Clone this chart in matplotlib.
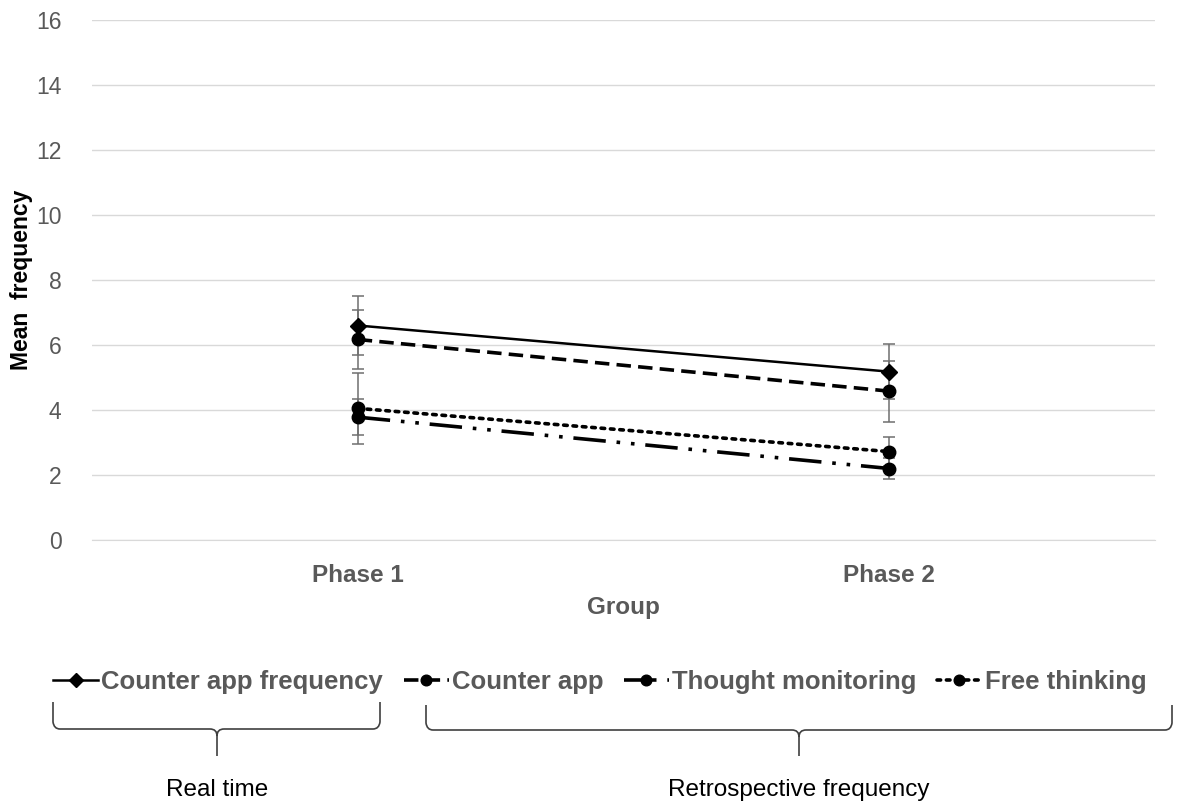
import numpy as np
import matplotlib
matplotlib.use("Agg")
import matplotlib.pyplot as plt
from matplotlib.path import Path
from matplotlib.patches import PathPatch

plt.rcParams["font.family"] = ["Liberation Sans", "DejaVu Sans"]

# Daten
phases = ["Phase 1", "Phase 2"]
series_names = ["Counter app frequency", "Counter app", "Thought monitoring", "Free thinking"]
counter_freq = [6.6, 5.18]
counter_freq_err = [0.9, 0.85]
counter_app = [6.17, 4.58]
counter_app_err = [0.9, 0.94]
thought_mon = [3.78, 2.2]
thought_mon_err = [0.55, 0.33]
free_think = [4.05, 2.72]
free_think_err = [1.1, 0.45]

GRAY = "#595959"

fig = plt.figure(figsize=(11.77, 8.10), dpi=100)
ax = fig.add_axes([92 / 1177, 1 - 540 / 810, (1155 - 92) / 1177, 520 / 810])

x = np.arange(len(phases))
styles = [
    dict(data=counter_freq, err=counter_freq_err, ls="-", marker="D", ms=8, lw=1.8),
    dict(data=counter_app, err=counter_app_err, ls=(0, (4, 2)), marker="o", ms=9, lw=2.6),
    dict(data=thought_mon, err=thought_mon_err, ls=(0, (9, 3, 1, 3, 1, 3)), marker="o", ms=9, lw=2.6),
    dict(data=free_think, err=free_think_err, ls=(0, (1, 1.6)), marker="o", ms=9, lw=2.6),
]

handles = []
for name, st in zip(series_names, styles):
    ax.errorbar(x, st["data"], yerr=st["err"], fmt="none", ecolor="#6f6f6f",
                elinewidth=1.1, capsize=4, capthick=1.1, zorder=3)
    ln, = ax.plot(x, st["data"], color="black", ls=st["ls"], lw=st["lw"],
                  marker=st["marker"], ms=st["ms"], label=name, zorder=4,
                  dash_capstyle="round" if name == "Free thinking" else "butt")
    handles.append(ln)

ax.set_xlim(-0.5, 1.5)
ax.set_ylim(0, 16)
ax.set_yticks(np.arange(0, 17, 2))
ax.set_xticks(x)
ax.set_xticklabels(phases, fontsize=17.5, fontweight="bold", color=GRAY)
ax.tick_params(axis="y", labelsize=16.5, labelcolor=GRAY, length=0, pad=22)
ax.tick_params(axis="x", length=0, pad=17)
ax.grid(axis="y", color="#d9d9d9", lw=1)
ax.set_axisbelow(True)
for s in ["top", "right", "left"]:
    ax.spines[s].set_visible(False)
ax.spines["bottom"].set_color("#d9d9d9")

ax.set_xlabel("Group", fontsize=17.5, fontweight="bold", color=GRAY, labelpad=7)
ax.set_ylabel("Mean  frequency", fontsize=16.5, fontweight="bold", color="black")
ax.yaxis.set_label_coords((33 - 92) / 1063, 0.5)

leg = fig.legend(handles=handles, loc="center", bbox_to_anchor=(600 / 1177, 1 - 682 / 810),
                 ncol=4, frameon=False, handlelength=1.75, handletextpad=0.12,
                 columnspacing=0.8, markerscale=0.85,
                 prop=dict(size=18.5, weight="bold"))
for t in leg.get_texts():
    t.set_color(GRAY)

# Klammern unten (Pixelkoordinaten)
ov = fig.add_axes([0, 0, 1, 1])
ov.set_xlim(0, 1177)
ov.set_ylim(810, 0)
ov.axis("off")


def brace(x0, x1, tip, top, mid, bottom):
    r = 7
    verts = [
        (x0, top), (x0, mid - r), (x0 + 1, mid), (x0 + r, mid),
        (tip - r, mid), (tip, mid), (tip, mid + r), (tip, bottom),
        (tip, mid + r), (tip, mid), (tip + r, mid),
        (x1 - r, mid), (x1 - 1, mid), (x1, mid - r), (x1, top),
    ]
    codes = [
        Path.MOVETO, Path.LINETO, Path.CURVE3, Path.CURVE3,
        Path.LINETO, Path.CURVE3, Path.CURVE3, Path.LINETO,
        Path.MOVETO, Path.CURVE3, Path.CURVE3,
        Path.LINETO, Path.CURVE3, Path.CURVE3, Path.LINETO,
    ]
    ov.add_patch(PathPatch(Path(verts, codes), fill=False, ec="#404040", lw=1.2))


brace(53, 380, 217, 702, 729, 756)
brace(426, 1172, 799, 705, 730, 756)

ov.text(217, 790, "Real time", fontsize=17.5, ha="center", va="center", color="black")
ov.text(799, 790, "Retrospective frequency", fontsize=17.5, ha="center", va="center", color="black")

fig.savefig("out.png", dpi=100)
